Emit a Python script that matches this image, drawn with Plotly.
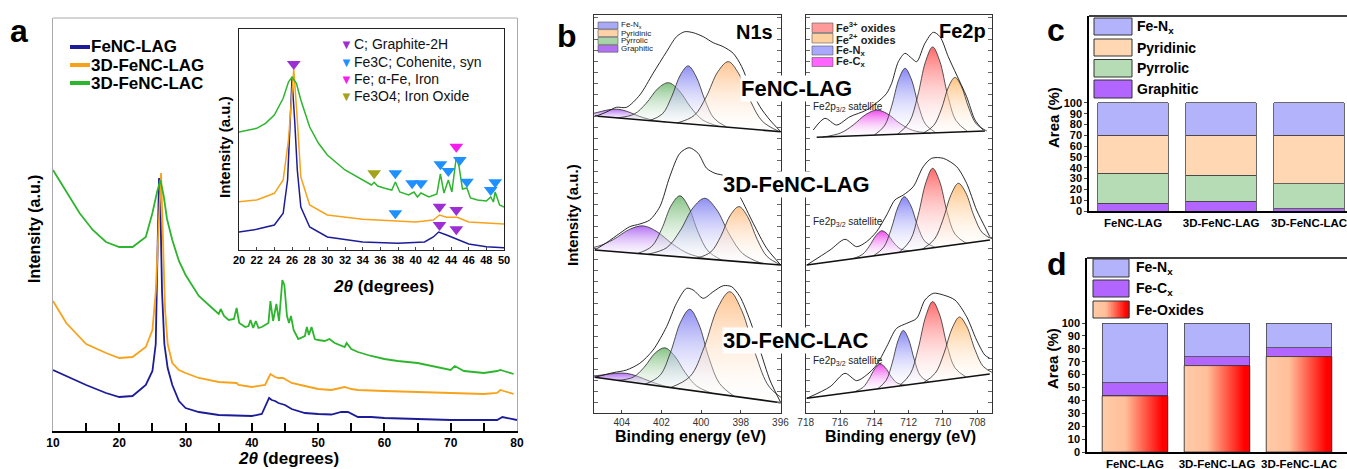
import numpy as np
import plotly.graph_objects as go

W, H = 1347, 469
FONT = "Liberation Sans, Arial, Helvetica, sans-serif"

# ================= (a) XRD main plot (intensity in arbitrary units) =================
xrd_fenc_lag_x = [10, 12, 15, 18, 20, 22, 24, 25, 25.5, 25.8, 26.0, 26.25, 26.45, 26.8, 27.3, 28, 29, 30, 32, 35, 38, 40,
                  41.5, 42.2, 42.6, 43, 43.5, 44, 44.5, 45, 46, 47, 48, 50, 52, 53.5, 54.5, 56, 58, 60, 65, 70, 75, 77,
                  77.8, 78.5, 80]
xrd_fenc_lag_y = [61, 55, 46, 38, 34, 35, 46, 60, 87, 190, 253, 208, 139, 87, 63, 46, 30, 23, 19, 16, 15, 15,
                  17, 28, 33, 31, 30, 28, 27, 26, 22, 20, 18, 17, 16.5, 19, 19, 14, 14, 13, 12, 11, 11, 11,
                  14, 13, 11]
xrd_3d_lag_x = [10, 12, 15, 18, 20, 22, 24, 25, 25.5, 25.9, 26.3, 26.6, 26.9, 27.3, 28, 29, 30, 32, 35, 37.7, 38, 40,
                42, 42.5, 42.8, 43.5, 44, 44.7, 45.5, 46, 48, 50, 52, 54, 55, 56, 60, 65, 70, 75, 77, 77.5, 78, 79.5]
xrd_3d_lag_y = [130, 108, 87, 78, 73, 74, 84, 101, 139, 208, 258, 190, 122, 87, 68, 61, 58, 53, 49, 48, 46, 44,
                46, 53, 57, 54, 53, 53, 50, 48, 45, 42, 41, 44, 42, 41, 40, 39, 38, 37, 38, 41, 40, 37]
xrd_3d_lac_x = [10, 12, 14, 16, 18, 20, 22, 24, 25, 25.7, 26.2, 26.7, 27.2, 28, 29, 30, 32, 34, 35, 35.3, 35.8, 36.5,
                37.3, 37.7, 38.1, 39, 39.5, 39.8, 40.2, 40.6, 41, 41.5, 42.5, 42.8, 43.2, 43.7, 44.1, 44.6, 44.9,
                45.3, 45.6, 45.9, 46.3, 47, 48, 48.3, 48.6, 49.0, 49.5, 50, 51, 51.7, 52.5, 54, 54.3, 55, 56, 58,
                60, 62, 65, 70, 70.6, 72, 75, 77, 77.5, 78, 79.5]
xrd_3d_lac_y = [261, 239, 218, 201, 189, 184, 184, 194, 218, 239, 251, 235, 212, 191, 170, 156, 135, 123, 117, 122,
                115, 111, 112, 123, 108, 104, 105, 111, 103, 110, 103, 104, 108, 130, 110, 127, 110, 151, 146,
                115, 108, 115, 101, 92, 95, 104, 96, 104, 92, 91, 90, 92, 88, 84, 88, 82, 79, 75, 72, 70, 68, 61,
                65, 60, 58, 60, 61, 60, 57]

# ================= (a) inset, 20-50 degrees =================
ins_fenc_lag_x = [20, 22, 24, 25, 25.5, 25.8, 26.0, 26.3, 26.6, 27, 28, 30, 34, 38, 41, 42, 42.6, 43.5, 44.5, 46, 48, 50]
ins_fenc_lag_y = [18, 20.7, 25, 36.7, 70, 130, 171, 130, 80, 43, 23, 13, 8, 6.7, 8, 13, 18, 15, 11.7, 6, 3.3, 2.3]
ins_3d_lag_x = [20, 22, 24, 25, 25.6, 26.2, 26.6, 27, 28, 30, 34, 37.7, 40, 42, 42.7, 43.5, 44.7, 46, 48, 50]
ins_3d_lag_y = [48.3, 50, 56.7, 70, 110, 180.7, 130, 73, 45, 35, 30.7, 29, 28, 30, 35, 32.7, 32.7, 28, 26.7, 26]
ins_3d_lac_x = [20, 22, 23, 24, 25, 25.6, 26.0, 26.5, 27, 28, 29, 30, 32, 34, 35, 35.3, 35.7, 36.5, 37.3, 37.7, 38.2,
                39.2, 39.8, 40.2, 40.6, 41.5, 42.4, 42.8, 43.2, 43.7, 44.1, 44.6, 44.9, 45.3, 45.8, 46.2, 47, 48,
                48.5, 48.8, 49.0, 49.5, 50]
ins_3d_lac_y = [118, 121.7, 126.7, 135, 151.7, 168, 173, 166.7, 150, 123, 106.7, 95, 80, 70, 65, 67.7, 64, 61.7, 60,
                68, 58, 55, 58, 53, 57, 53, 56, 76, 57, 70, 58, 93, 84, 61, 62, 52, 50, 49, 53, 48, 58, 45, 43]

# phase markers in the inset
mk_graphite_x = [26.2, 42.7, 44.6, 42.7, 44.6]
mk_graphite_y = [186, 43.3, 40, 25, 20.7]
mk_fe3c_x = [37.7, 39.6, 40.6, 42.8, 43.7, 45.0, 45.8, 48.5, 49.0, 37.7]
mk_fe3c_y = [76.7, 66.7, 66.7, 85.7, 79, 90, 68.3, 60, 67.7, 36.7]
mk_fe_x = [44.6]
mk_fe_y = [103.3]
mk_fe3o4_x = [35.3]
mk_fe3o4_y = [76.7]

# ================= (b) XPS N1s (stacked offsets in a.u.) =================
samples = ["FeNC-LAG", "3D-FeNC-LAG", "3D-FeNC-LAC"]
n1s_components = ["Graphitic", "Pyrrolic", "Fe-Nx", "Pyridinic"]

n1s_base = {
    "FeNC-LAG": ([405.36, 395.98], [297.0, 281.3]),
    "3D-FeNC-LAG": ([405.36, 395.98], [163.0, 148.0]),
    "3D-FeNC-LAC": ([405.36, 395.98], [35.7, 10.3]),
}
n1s_env = {
    "FeNC-LAG": ([405.36, 404.77, 404.27, 403.76, 403.09, 402.42, 401.74, 401.24, 400.82, 400.4, 399.89, 399.39,
                  398.88, 398.38, 397.95, 397.54, 397.03, 396.53, 395.98],
                 [296.3, 301, 305.7, 305.7, 318, 339.7, 361.3, 376.3, 381.3, 380.3, 376.3, 370.3, 366.3, 359.7,
                  346.3, 326.3, 306.3, 293, 281.3]),
    "3D-FeNC-LAG": ([405.36, 404.77, 404.1, 403.6, 403.09, 402.59, 402.08, 401.58, 401.07, 400.6, 400.15, 399.72,
                     399.3, 398.71, 398.04, 397.37, 396.69, 395.98],
                    [163, 170.3, 179.7, 186.3, 189, 193, 206.3, 236.3, 259.7, 265.3, 259.7, 244.7, 239.7, 236.3,
                     216.3, 189.7, 164.7, 148]),
    "3D-FeNC-LAC": ([405.36, 404.44, 403.76, 403.09, 402.42, 401.74, 401.24, 400.73, 400.4, 399.89, 399.39, 398.88,
                     398.46, 398.04, 397.54, 397.03, 396.53, 395.98],
                    [35.7, 40.3, 43, 49.7, 63, 86.3, 109.7, 124.7, 123, 114.7, 121.3, 127.3, 126.3, 116.3, 93, 63,
                     33, 10.3]),
}
# component peaks: binding energy and height above the background
n1s_fenc_lag = {
    "Graphitic": ([406.6, 405.8, 405.24, 404.68, 404.2, 403.72, 403.16, 402.6, 401.8], [0, 1.2, 3.7, 7.3, 8.7, 7.3, 3.7, 1.2, 0]),
    "Pyrrolic": ([404.23, 403.37, 402.77, 402.17, 401.65, 401.13, 400.53, 399.93, 399.07], [0, 5.3, 17, 33, 39.5, 33, 17, 5.3, 0]),
    "Fe-Nx": ([402.6, 401.95, 401.5, 401.04, 400.65, 400.26, 399.8, 399.35, 398.7], [0, 7.8, 25, 48.4, 58, 48.4, 25, 7.8, 0]),
    "Pyridinic": ([401.21, 400.35, 399.75, 399.15, 398.63, 398.11, 397.51, 396.91, 396.05], [0, 8.9, 28.2, 54.8, 65.6, 54.8, 28.2, 8.9, 0]),
}
n1s_3d_lag = {
    "Graphitic": ([406.37, 405.22, 404.42, 403.61, 402.92, 402.23, 401.42, 400.62, 399.47], [0, 3.8, 12, 23.4, 28, 23.4, 12, 3.8, 0]),
    "Pyrrolic": ([403.2, 402.49, 401.99, 401.5, 401.07, 400.64, 400.15, 399.65, 398.94], [0, 8.2, 26.2, 50.9, 61, 50.9, 26.2, 8.2, 0]),
    "Fe-Nx": ([402.69, 401.73, 401.06, 400.39, 399.81, 399.23, 398.56, 397.89, 396.93], [0, 8.2, 26, 50.6, 60.6, 50.6, 26, 8.2, 0]),
    "Pyridinic": ([400.22, 399.51, 399.01, 398.52, 398.09, 397.66, 397.17, 396.67, 395.96], [0, 7.4, 23.7, 45.9, 55, 45.9, 23.7, 7.4, 0]),
}
n1s_3d_lac = {
    "Graphitic": ([406.46, 405.56, 404.93, 404.3, 403.76, 403.22, 402.59, 401.96, 401.06], [0, 1.1, 3.6, 6.9, 8.3, 6.9, 3.6, 1.1, 0]),
    "Pyrrolic": ([404.23, 403.43, 402.87, 402.31, 401.83, 401.35, 400.79, 400.23, 399.43], [0, 5.3, 16.8, 32.6, 39, 32.6, 16.8, 5.3, 0]),
    "Fe-Nx": ([402.82, 402.07, 401.55, 401.02, 400.57, 400.12, 399.6, 399.07, 398.32], [0, 10.9, 34.8, 67.6, 81, 67.6, 34.8, 10.9, 0]),
    "Pyridinic": ([401.55, 400.55, 399.85, 399.15, 398.55, 397.95, 397.25, 396.55, 395.55], [0, 14, 44.7, 86.8, 104, 86.8, 44.7, 14, 0]),
}
n1s_fits = {"FeNC-LAG": n1s_fenc_lag, "3D-FeNC-LAG": n1s_3d_lag, "3D-FeNC-LAC": n1s_3d_lac}

# ================= (b) XPS Fe2p =================
fe2p_components = ["Fe-Cx", "Fe-Nx", "Fe3+", "Fe2+"]
fe2p_base = {
    "FeNC-LAG": ([717.36, 707.55], [275.7, 282.0]),
    "3D-FeNC-LAG": ([717.94, 707.26], [148.0, 173.0]),
    "3D-FeNC-LAC": ([717.94, 707.27], [14.7, 39.0]),
}
fe2p_env = {
    "FeNC-LAG": ([717.56, 716.88, 716.2, 715.42, 714.45, 713.67, 713.28, 712.99, 712.6, 712.21, 711.82, 711.53, 711.05,
                  710.56, 710.17, 709.69, 709.2, 708.62, 708.13, 707.65],
                 [283, 294.7, 288, 296.3, 303, 313, 319.7, 329.7, 351.3, 359.7, 354.7, 351.3, 369.7, 380.7, 376.3,
                  356.3, 338, 316.3, 293, 283]),
    "3D-FeNC-LAG": ([717.94, 716.58, 715.71, 715.03, 714.45, 713.87, 713.28, 712.8, 712.31, 711.73, 711.15, 710.66,
                     709.98, 709.2, 708.62, 708.04, 707.56, 707.27],
                    [148, 163, 173.7, 166.3, 171.3, 181.3, 198, 213, 218, 226.3, 246.3, 254.7, 254.7, 246.3, 229.7,
                     203, 186.3, 176.3]),
    "3D-FeNC-LAC": ([717.94, 716.58, 715.71, 715.03, 714.45, 713.87, 713.28, 712.7, 712.11, 711.53, 711.05, 710.56,
                     709.98, 709.3, 708.62, 708.04, 707.56, 707.27],
                    [14.7, 26.3, 39.7, 32.3, 38, 48, 66.3, 84.7, 89.7, 94.7, 113, 119.7, 118, 113, 96.3, 73, 58, 54.7]),
}
fe2p_fenc_lag = {
    "Fe-Cx": ([717.02, 715.97, 715.24, 714.5, 713.87, 713.24, 712.51, 711.77, 710.72], [0, 3.4, 10.8, 20.9, 25, 20.9, 10.8, 3.4, 0]),
    "Fe-Nx": ([714.01, 713.41, 712.99, 712.57, 712.21, 711.85, 711.43, 711.01, 710.41], [0, 8.9, 28.3, 54.9, 65.7, 54.9, 28.3, 8.9, 0]),
    "Fe3+": ([712.64, 711.96, 711.48, 711.01, 710.6, 710.19, 709.72, 709.24, 708.56], [0, 11.6, 37, 71.8, 86, 71.8, 37, 11.6, 0]),
    "Fe2+": ([711.16, 710.54, 710.09, 709.67, 709.3, 708.93, 708.49, 708.06, 707.44], [0, 7.4, 23.5, 45.7, 54.7, 45.7, 23.5, 7.4, 0]),
}
fe2p_3d_lag = {
    "Fe-Cx": ([715.22, 714.67, 714.29, 713.9, 713.57, 713.24, 712.86, 712.47, 711.92], [0, 3.2, 10.3, 20, 24, 20, 10.3, 3.2, 0]),
    "Fe-Nx": ([714.05, 713.45, 713.03, 712.61, 712.25, 711.89, 711.47, 711.05, 710.45], [0, 7.4, 23.7, 45.9, 55, 45.9, 23.7, 7.4, 0]),
    "Fe3+": ([712.55, 711.9, 711.45, 710.99, 710.6, 710.21, 709.76, 709.3, 708.65], [0, 10.7, 34.2, 66.4, 79.5, 66.4, 34.2, 10.7, 0]),
    "Fe2+": ([711.2, 710.5, 710.01, 709.52, 709.1, 708.68, 708.19, 707.7, 707.0], [0, 8.2, 26.2, 50.9, 61, 50.9, 26.2, 8.2, 0]),
}
fe2p_3d_lac = {
    "Fe-Cx": ([715.17, 714.67, 714.32, 713.97, 713.67, 713.37, 713.02, 712.67, 712.17], [0, 3.3, 10.6, 20.5, 24.6, 20.5, 10.6, 3.3, 0]),
    "Fe-Nx": ([713.81, 713.31, 712.96, 712.61, 712.31, 712.01, 711.66, 711.31, 710.81], [0, 7.4, 23.7, 45.9, 55, 45.9, 23.7, 7.4, 0]),
    "Fe3+": ([712.55, 711.9, 711.45, 710.99, 710.6, 710.21, 709.76, 709.3, 708.65], [0, 10.8, 34.4, 66.8, 80, 66.8, 34.4, 10.8, 0]),
    "Fe2+": ([711.14, 710.44, 709.95, 709.46, 709.04, 708.62, 708.13, 707.64, 706.94], [0, 8.2, 26.2, 50.9, 61, 50.9, 26.2, 8.2, 0]),
}
fe2p_fits = {"FeNC-LAG": fe2p_fenc_lag, "3D-FeNC-LAG": fe2p_3d_lag, "3D-FeNC-LAC": fe2p_3d_lac}

# ================= (c) N species area % =================
bar_cats = ["FeNC-LAG", "3D-FeNC-LAG", "3D-FeNC-LAC"]
c_graphitic = [7, 9, 2]
c_pyrrolic = [28, 24, 23]
c_pyridinic = [35, 37, 45]
c_fenx = [30, 30, 30]

# ================= (d) Fe species area % =================
d_oxides = [43.5, 67, 74]
d_fecx = [10, 7, 7]
d_fenx = [46.5, 26, 19]

# ---------------------------------------------------------------------------
C_BLUE, C_ORANGE, C_GREEN = "#1c1c98", "#f7a21b", "#2db52d"
N1S_COL = {"Fe-Nx": "rgba(118,118,240,0.82)", "Pyridinic": "rgba(255,186,125,0.85)",
           "Pyrrolic": "rgba(105,180,105,0.82)", "Graphitic": "rgba(165,85,240,0.85)"}
FE_COL = {"Fe3+": "rgba(255,80,80,0.85)", "Fe2+": "rgba(255,183,105,0.85)",
          "Fe-Nx": "rgba(112,112,245,0.85)", "Fe-Cx": "rgba(235,40,235,0.85)"}
BAR_FENX, BAR_PYRI, BAR_PYRR, BAR_GRAPH = "#b3b3fc", "#ffd8b3", "#b5dcb5", "#b266ff"
OX_SCALE = [[0, "#ffcba8"], [0.35, "#ffbf9a"], [0.92, "#ff0000"], [1, "#ff0000"]]


def xd(a, b):
    return [a / W, b / W]


def yd(t, b):
    return [1 - b / H, 1 - t / H]


def px(x):
    return x / W


def py(y):
    return 1 - y / H


fig = go.Figure()

# ---- (a) main ----
for xs, ys, col in [(xrd_fenc_lag_x, xrd_fenc_lag_y, C_BLUE), (xrd_3d_lag_x, xrd_3d_lag_y, C_ORANGE),
                    (xrd_3d_lac_x, xrd_3d_lac_y, C_GREEN)]:
    fig.add_trace(go.Scatter(x=xs, y=ys, mode="lines", line=dict(color=col, width=1.8),
                             xaxis="x", yaxis="y", showlegend=False, hoverinfo="skip"))
# ---- (a) inset ----
for xs, ys, col in [(ins_fenc_lag_x, ins_fenc_lag_y, C_BLUE), (ins_3d_lag_x, ins_3d_lag_y, C_ORANGE),
                    (ins_3d_lac_x, ins_3d_lac_y, C_GREEN)]:
    fig.add_trace(go.Scatter(x=xs, y=ys, mode="lines", line=dict(color=col, width=1.5),
                             xaxis="x2", yaxis="y2", showlegend=False, hoverinfo="skip"))
MK_COLS = {"g": "#9b2fd4", "c": "#1e90ff", "f": "#f51cf0", "o": "#a3a31a"}
for xs, ys, col in [(mk_graphite_x, mk_graphite_y, MK_COLS["g"]), (mk_fe3c_x, mk_fe3c_y, MK_COLS["c"]),
                    (mk_fe_x, mk_fe_y, MK_COLS["f"]), (mk_fe3o4_x, mk_fe3o4_y, MK_COLS["o"])]:
    fig.add_trace(go.Scatter(x=xs, y=ys, mode="markers",
                             marker=dict(symbol="triangle-down", size=12, color=col),
                             xaxis="x2", yaxis="y2", showlegend=False, hoverinfo="skip"))


# ---- (b) XPS ----
def add_fit(fits, base, env, comps, cols, xa, ya):
    bx = np.array(base[0])
    by = np.array(base[1])
    order = np.argsort(bx)
    for name in comps:
        cx, ch = fits[name]
        cx = np.array(cx, dtype=float)
        b_at = np.interp(cx, bx[order], by[order])
        fig.add_trace(go.Scatter(x=cx, y=b_at, mode="lines", line=dict(width=0, color="rgba(0,0,0,0)"),
                                 xaxis=xa, yaxis=ya, showlegend=False, hoverinfo="skip"))
        fig.add_trace(go.Scatter(x=cx, y=b_at + np.array(ch), mode="lines",
                                 line=dict(color="#2a2a2a", width=0.8, shape="spline", smoothing=1.0),
                                 fill="tonexty",
                                 fillgradient=dict(type="vertical",
                                                   colorscale=[[0, "rgba(255,255,255,0.15)"], [1, cols[name]]]),
                                 xaxis=xa, yaxis=ya, showlegend=False, hoverinfo="skip"))
    fig.add_trace(go.Scatter(x=base[0], y=base[1], mode="lines", line=dict(color="#111", width=1.6),
                             xaxis=xa, yaxis=ya, showlegend=False, hoverinfo="skip"))
    fig.add_trace(go.Scatter(x=env[0], y=env[1], mode="lines",
                             line=dict(color="#111", width=0.9, shape="spline", smoothing=0.8),
                             xaxis=xa, yaxis=ya, showlegend=False, hoverinfo="skip"))


for s in samples:
    add_fit(n1s_fits[s], n1s_base[s], n1s_env[s], n1s_components, N1S_COL, "x3", "y3")
    add_fit(fe2p_fits[s], fe2p_base[s], fe2p_env[s], fe2p_components, FE_COL, "x4", "y4")

# ---- (c) bars ----
bx_pos = list(range(len(bar_cats)))
for vals, col in [(c_graphitic, BAR_GRAPH), (c_pyrrolic, BAR_PYRR), (c_pyridinic, BAR_PYRI), (c_fenx, BAR_FENX)]:
    fig.add_trace(go.Bar(x=bx_pos, y=vals, width=0.8, marker=dict(color=col, line=dict(color="#444", width=0.8)),
                         xaxis="x5", yaxis="y5", showlegend=False, hoverinfo="skip"))
# ---- (d) bars ----
for vals, col in [(d_oxides, "#ffb48c"), (d_fecx, BAR_GRAPH), (d_fenx, BAR_FENX)]:
    fig.add_trace(go.Bar(x=bx_pos, y=vals, width=0.8, marker=dict(color=col, line=dict(color="#444", width=0.8)),
                         xaxis="x6", yaxis="y6", showlegend=False, hoverinfo="skip"))
for i, v in enumerate(d_oxides):
    fig.add_trace(go.Scatter(x=[i - 0.4, i + 0.4, i + 0.4, i - 0.4, i - 0.4], y=[0, 0, v, v, 0], mode="lines",
                             fill="toself", line=dict(color="#333", width=0.8),
                             fillgradient=dict(type="horizontal", colorscale=OX_SCALE, start=i - 0.4, stop=i + 0.4),
                             xaxis="x6", yaxis="y6", showlegend=False, hoverinfo="skip"))

# ---------------------------------------------------------------------------
noax = dict(showgrid=False, zeroline=False, automargin=False)
bold11 = dict(family=FONT, size=11, color="black", weight="bold")
bold12 = dict(family=FONT, size=12, color="black", weight="bold")
catfont = dict(family=FONT, size=11.5, color="black", weight="bold")
layout = dict(
    width=W, height=H, margin=dict(l=0, r=0, t=0, b=0, autoexpand=False), paper_bgcolor="white",
    plot_bgcolor="rgba(0,0,0,0)", autosize=False,
    barmode="stack", font=dict(family=FONT, color="black"), showlegend=False,
    xaxis=dict(domain=xd(53, 517), range=[10, 80], anchor="y", showline=True, linecolor="black", linewidth=2,
               ticks="inside", ticklen=8, tickwidth=2, tickcolor="black", tick0=10, dtick=10, tickangle=0,
               minor=dict(dtick=5, tick0=10, ticks="inside", ticklen=8, tickwidth=2, tickcolor="black"),
               tickfont=bold12, **noax),
    yaxis=dict(domain=yd(18, 431), range=[0, 413], anchor="x", showline=True, linecolor="#aaaaaa", linewidth=1,
               mirror=True, showticklabels=False, ticks="", **noax),
    xaxis2=dict(domain=xd(239, 504), range=[20, 50], anchor="y2", showline=True, linecolor="#222", linewidth=1.3,
                mirror=True, ticks="inside", ticklen=3, tick0=20, dtick=2, tickangle=0, tickfont=bold11, **noax),
    yaxis2=dict(domain=yd(29, 250), range=[0, 221], anchor="x2", showline=True, linecolor="#222", linewidth=1.3,
                mirror=True, showticklabels=False, ticks="", **noax),
    xaxis3=dict(domain=xd(594, 781), range=[405.4, 395.97], anchor="y3", showline=True, linecolor="#333",
                linewidth=1, mirror=True, ticks="inside", ticklen=3, tick0=396, dtick=2, tickangle=0,
                tickfont=dict(family=FONT, size=10, color="#333"), **noax),
    yaxis3=dict(domain=yd(15, 413), range=[0, 398], anchor="x3", showline=True, linecolor="#333", linewidth=1,
                mirror="ticks", ticks="inside", ticklen=4, dtick=11, tickcolor="#666", showticklabels=False, **noax),
    xaxis4=dict(domain=xd(805.7, 992), range=[718, 707.14], anchor="y4", showline=True, linecolor="#333",
                linewidth=1, mirror=True, ticks="inside", ticklen=3, tick0=708, dtick=2, tickangle=0,
                tickfont=dict(family=FONT, size=10, color="#333"), **noax),
    yaxis4=dict(domain=yd(15, 413), range=[0, 398], anchor="x4", showline=True, linecolor="#333", linewidth=1,
                mirror="ticks", ticks="inside", ticklen=4, dtick=11, tickcolor="#666", showticklabels=False, **noax),
    xaxis5=dict(domain=xd(1089, 1347), range=[-0.5, 2.43], anchor="y5", showline=True, linecolor="black",
                linewidth=2, ticks="", tickvals=bx_pos, ticktext=bar_cats, tickangle=0, tickfont=catfont,
                ticklabeloverflow="allow", **noax),
    yaxis5=dict(domain=yd(16, 211), range=[0, 180.5], anchor="x5", showline=True, linecolor="black", linewidth=1.5,
                ticks="outside", ticklen=3, tickvals=list(range(0, 101, 10)), tickfont=bold11, **noax),
    xaxis6=dict(domain=xd(1087, 1347), range=[-0.585, 2.585], anchor="y6", showline=True, linecolor="black",
                linewidth=2, ticks="", tickvals=bx_pos, ticktext=bar_cats, tickangle=0, tickfont=catfont,
                ticklabeloverflow="allow", **noax),
    yaxis6=dict(domain=yd(258, 452), range=[0, 150.4], anchor="x6", showline=True, linecolor="black", linewidth=1.5,
                ticks="outside", ticklen=3, tickvals=list(range(0, 101, 10)), tickfont=bold11, **noax),
)
fig.update_layout(**layout)

shapes = []
# frame tops
shapes.append(dict(type="line", xref="paper", yref="paper", x0=px(53), x1=px(517), y0=py(18), y1=py(18),
                   line=dict(color="#aaaaaa", width=1)))
shapes.append(dict(type="line", xref="paper", yref="paper", x0=px(1089), x1=1, y0=py(16), y1=py(16),
                   line=dict(color="black", width=1.5)))
shapes.append(dict(type="line", xref="paper", yref="paper", x0=px(1087), x1=1, y0=py(258), y1=py(258),
                   line=dict(color="black", width=1.5)))
# (a) main legend lines
for yy, col in [(47, C_BLUE), (65, C_ORANGE), (83, C_GREEN)]:
    shapes.append(dict(type="line", xref="paper", yref="paper", x0=px(70), x1=px(90), y0=py(yy), y1=py(yy),
                       line=dict(color=col, width=4)))


def swatch(x0, x1, y0, y1, col, lc="#333", lw=1):
    shapes.append(dict(type="rect", xref="paper", yref="paper", x0=px(x0), x1=px(x1), y0=py(y1), y1=py(y0),
                       fillcolor=col, line=dict(color=lc, width=lw)))


# N1s legend
for (t, b), col in zip([(22, 29), (29.6, 36.6), (37.4, 44.4), (45.2, 52.2)],
                       ["#a9a9f6", "#ffd2a8", "#a9d6a9", "#b072f0"]):
    swatch(598, 618, t, b, col, "#555", 0.6)
# Fe2p legend
for (t, b), col in zip([(23, 32.5), (33.5, 43), (46, 55), (57.5, 66.5)],
                       ["#ff9a9a", "#ffd0a0", "#a8a8ff", "#ff66ff"]):
    swatch(812, 833, t, b, col, "#555", 0.6)
# (c) legend
for (t, b), col in zip([(18, 35), (39, 56), (59.5, 77), (80, 98)], [BAR_FENX, BAR_PYRI, BAR_PYRR, BAR_GRAPH]):
    swatch(1094, 1132, t, b, col, "#333", 1)
# (d) legend
for (t, b), col in zip([(259, 277), (280, 297)], [BAR_FENX, BAR_GRAPH]):
    swatch(1093, 1129, t, b, col, "#333", 1)


def hex2rgb(hx):
    hx = hx.lstrip("#")
    return tuple(int(hx[i:i + 2], 16) for i in (0, 2, 4))


def scale_color(scale, t):
    for (p0, c0), (p1, c1) in zip(scale[:-1], scale[1:]):
        if p0 <= t <= p1:
            f = (t - p0) / (p1 - p0) if p1 > p0 else 0
            a, b = hex2rgb(c0), hex2rgb(c1)
            return "rgb(%d,%d,%d)" % tuple(round(a[k] + (b[k] - a[k]) * f) for k in range(3))
    return scale[-1][1]


nsl = 24
for k in range(nsl):
    xa = 1093 + (1129 - 1093) * k / nsl
    xb = 1093 + (1129 - 1093) * (k + 1) / nsl
    shapes.append(dict(type="rect", xref="paper", yref="paper", x0=px(xa), x1=px(xb) + 0.0004, y0=py(318),
                       y1=py(301), fillcolor=scale_color(OX_SCALE, (k + 0.5) / nsl), line=dict(width=0)))
shapes.append(dict(type="rect", xref="paper", yref="paper", x0=px(1093), x1=px(1129), y0=py(318), y1=py(301),
                   fillcolor="rgba(0,0,0,0)", line=dict(color="#333", width=1)))
fig.update_layout(shapes=shapes)


def ann(text, x, y, size, color="black", xanchor="center", yanchor="middle", angle=0, bg=None, bold=False):
    fig.add_annotation(xref="paper", yref="paper", x=px(x), y=py(y), text=("<b>%s</b>" % text) if bold else text,
                       showarrow=False, xanchor=xanchor, yanchor=yanchor, textangle=angle,
                       font=dict(family=FONT, size=size, color=color), bgcolor=bg, borderpad=0)


# panel letters
ann("a", 19, 31, 32, bold=True)
ann("b", 567, 36, 32, bold=True)
ann("c", 1056, 30, 32, bold=True)
ann("d", 1057, 264, 32, bold=True)

# (a) titles and legends
ann("<i>2θ</i> (degrees)", 288, 458, 17, bold=True)
ann("Intensity (a.u.)", 34, 229, 16, angle=-90, bold=True)
ann("<i>2θ</i> (degrees)", 383, 286, 17, bold=True)
ann("Intensity (a.u.)", 224, 147, 15, angle=-90, bold=True)
for yy, t in [(47, "FeNC-LAG"), (65, "3D-FeNC-LAG"), (83, "3D-FeNC-LAC")]:
    ann(t, 90, yy, 17, xanchor="left", bold=True)
for yy, t, col in [(44, "C; Graphite-2H", MK_COLS["g"]), (62, "Fe3C; Cohenite, syn", MK_COLS["c"]),
                   (79, "Fe; α-Fe, Iron", MK_COLS["f"]), (96, "Fe3O4; Iron Oxide", MK_COLS["o"])]:
    ann("▼", 346, yy, 13, color=col)
    ann(t, 353, yy, 14, xanchor="left", color="#111")

# (b) titles, legends, labels
ann("Binding energy (eV)", 690, 436, 16, bold=True)
ann("Binding energy (eV)", 900, 436, 16, bold=True)
ann("Intensity (a.u.)", 572, 215, 15, angle=-90, bold=True)
ann("N1s", 754, 32, 20, bold=True)
ann("Fe2p", 963, 31, 20, bold=True)
for yy, t in [(25.5, "Fe-N<sub>x</sub>"), (33.1, "Pyridinic"), (40.9, "Pyrrolic"), (48.7, "Graphitic")]:
    ann(t, 620, yy, 8, xanchor="left", color="#222")
for yy, t in [(27.5, "Fe<sup>3+</sup> oxides"), (38.5, "Fe<sup>2+</sup> oxides"), (50.5, "Fe-N<sub>x</sub>"),
              (62, "Fe-C<sub>x</sub>")]:
    ann(t, 835, yy, 11, xanchor="left", color="#222", bold=True)
for yy in [107, 222, 361]:
    ann("Fe2p<sub>3/2</sub> satellite", 848, yy, 10, color="#222")
for yy, t in [(88, "FeNC-LAG"), (184, "3D-FeNC-LAG"), (340, "3D-FeNC-LAC")]:
    ann(t, 796, yy, 22, bg="white", bold=True)

# (c), (d) titles and legends
ann("Area (%)", 1053, 118, 15, angle=-90, bold=True)
ann("Area (%)", 1052, 359, 15, angle=-90, bold=True)
for yy, t in [(27, "Fe-N<sub>x</sub>"), (47.5, "Pyridinic"), (68, "Pyrrolic"), (89, "Graphitic")]:
    ann(t, 1136, yy, 14, xanchor="left", bold=True)
for yy, t in [(268, "Fe-N<sub>x</sub>"), (289, "Fe-C<sub>x</sub>"), (310, "Fe-Oxides")]:
    ann(t, 1135, yy, 14, xanchor="left", bold=True)

fig.write_html("out.html", config={"displayModeBar": False, "responsive": False},
               post_script="document.body.style.margin='0';document.body.style.padding='0';"
                           "document.body.style.overflow='hidden';")
